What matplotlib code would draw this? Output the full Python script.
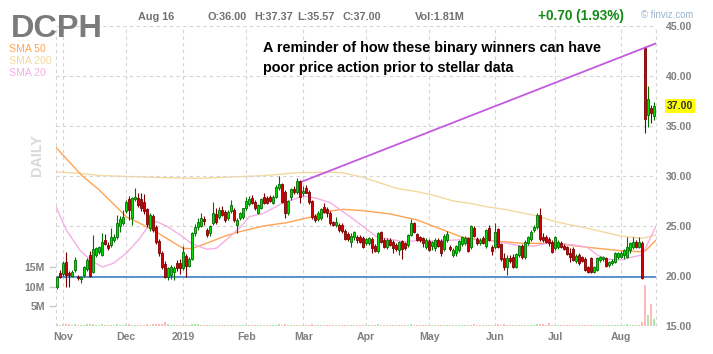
import numpy as np
import pandas as pd
import matplotlib
matplotlib.use("Agg")
import matplotlib.pyplot as plt

plt.rcParams['font.family'] = ['Liberation Sans', 'DejaVu Sans']

# trading calendar, Oct 30 2018 .. Aug 16 2019
holidays = ['2018-11-22', '2018-12-05', '2018-12-25', '2019-01-01', '2019-01-21',
            '2019-02-18', '2019-04-19', '2019-05-27', '2019-07-04']

opens = [
    18.9, 20.3, 20.2, 21.4, 20.3, 20.0, 20.6, 19.95, 19.7, 20.1,
    20.7, 22.1, 20.4, 22.1, 22.4, 22.1, 23.6, 23.1, 23.1, 23.6,
    23.9, 25.0, 25.3, 26.5, 27.7, 25.8, 27.7, 27.8, 27.7, 27.4,
    26.7, 24.8, 26.0, 24.9, 23.5, 22.3, 21.2, 19.9, 20.1, 20.4,
    21.3, 21.3, 20.8, 22.0, 21.0, 21.7, 24.3, 24.9, 25.0, 25.7,
    24.6, 24.3, 25.3, 26.2, 25.9, 26.6, 26.4, 25.8, 26.5, 26.6,
    25.1, 25.8, 25.9, 26.8, 27.2, 27.8, 27.4, 26.3, 26.8, 27.9,
    27.8, 27.9, 27.3, 27.9, 28.8, 29.2, 28.4, 26.3, 27.9, 28.7,
    28.4, 29.5, 28.3, 28.8, 28.4, 27.5, 26.0, 25.7, 25.8, 26.9,
    26.7, 26.3, 25.4, 25.1, 25.1, 25.1, 24.5, 24.2, 23.4, 23.9,
    23.9, 23.9, 23.8, 23.3, 23.3, 23.7, 23.0, 22.5, 24.4, 23.6,
    22.9, 23.6, 23.4, 23.1, 22.6, 23.5, 23.3, 23.1, 24.1, 25.3,
    24.2, 23.9, 23.8, 22.9, 23.5, 23.0, 22.8, 23.6, 23.5, 22.7,
    23.6, 22.9, 22.1, 22.3, 22.6, 23.2, 23.3, 23.8, 22.9, 24.8,
    23.7, 23.3, 23.8, 23.0, 24.8, 22.9, 22.9, 24.7, 23.2, 21.8,
    20.9, 21.8, 21.9, 20.9, 22.1, 23.0, 21.9, 23.3, 23.7, 24.6,
    24.9, 26.1, 23.9, 23.9, 23.7, 23.4, 22.8, 22.9, 23.3, 23.0,
    22.9, 22.3, 22.7, 21.5, 22.1, 21.9, 21.7, 20.9, 21.8, 20.4,
    20.6, 21.6, 21.7, 21.8, 21.1, 21.3, 21.4, 21.9, 21.9, 22.1,
    21.9, 22.6, 22.9, 23.4, 22.9, 23.3, 42.8, 36.1, 36.8, 36.0,
]
highs = [
    20.0, 20.6, 21.5, 22.4, 20.5, 20.6, 21.9, 20.1, 20.0, 21.0,
    21.8, 22.5, 24.1, 22.9, 23.0, 24.3, 24.2, 23.4, 24.8, 24.2,
    26.1, 26.0, 26.6, 27.6, 28.0, 27.9, 28.8, 28.3, 28.3, 28.2,
    26.8, 26.3, 26.2, 25.1, 23.7, 22.5, 21.5, 20.9, 21.1, 21.0,
    21.6, 21.7, 23.0, 22.2, 21.9, 24.4, 25.2, 25.8, 26.3, 26.0,
    24.8, 25.1, 27.4, 26.8, 26.9, 27.0, 26.6, 26.6, 27.6, 26.8,
    25.8, 26.4, 26.8, 27.9, 28.0, 28.1, 27.6, 27.2, 27.8, 28.3,
    28.0, 28.1, 28.1, 29.1, 30.0, 29.3, 28.6, 27.6, 28.8, 29.0,
    29.8, 29.6, 29.0, 29.1, 28.6, 27.6, 26.2, 26.5, 26.8, 27.3,
    26.9, 26.5, 25.5, 25.9, 25.3, 25.3, 24.7, 24.4, 24.3, 24.5,
    24.1, 24.1, 24.0, 23.8, 23.9, 23.9, 23.2, 24.4, 24.5, 23.8,
    23.8, 23.8, 23.6, 23.3, 23.5, 23.6, 23.4, 24.2, 25.7, 25.4,
    24.3, 24.0, 23.9, 23.8, 23.7, 23.5, 23.8, 23.8, 23.7, 24.2,
    24.5, 23.1, 22.8, 23.1, 23.6, 24.0, 24.0, 23.9, 25.1, 25.0,
    23.9, 23.8, 24.0, 24.7, 25.1, 23.1, 25.3, 24.8, 23.3, 22.3,
    22.1, 22.1, 22.2, 22.3, 23.1, 23.2, 23.6, 24.0, 24.6, 25.1,
    26.3, 26.8, 24.3, 24.1, 23.9, 23.6, 24.0, 23.6, 23.5, 23.2,
    23.0, 22.8, 22.9, 22.2, 22.3, 22.0, 21.9, 21.0, 21.9, 21.0,
    21.9, 22.0, 22.0, 21.9, 21.5, 21.7, 22.4, 22.4, 22.5, 22.7,
    23.9, 23.4, 23.9, 23.6, 23.9, 23.5, 43.0, 39.0, 37.1, 37.37,
]
lows = [
    18.7, 19.8, 20.0, 18.9, 18.9, 19.9, 20.4, 19.6, 19.3, 19.9,
    20.5, 19.9, 20.3, 21.9, 22.2, 22.0, 23.1, 22.6, 22.9, 23.4,
    23.7, 24.4, 25.1, 26.3, 25.6, 25.1, 27.5, 26.9, 26.5, 26.2,
    24.9, 24.5, 24.4, 23.2, 22.0, 20.7, 19.8, 19.6, 19.7, 19.6,
    20.5, 20.2, 20.6, 19.9, 20.9, 21.6, 24.0, 24.6, 24.9, 25.1,
    23.9, 24.0, 25.1, 25.2, 25.7, 26.0, 25.4, 25.6, 26.3, 25.4,
    24.3, 25.6, 25.7, 26.6, 27.0, 27.2, 26.6, 26.2, 26.7, 27.2,
    27.2, 27.4, 27.2, 27.8, 28.6, 27.3, 25.8, 26.1, 27.6, 28.2,
    28.2, 27.3, 28.0, 28.3, 27.2, 25.7, 25.4, 25.5, 25.6, 26.3,
    25.9, 25.1, 25.0, 24.9, 24.4, 24.3, 23.6, 23.5, 22.9, 23.6,
    23.3, 23.3, 22.8, 23.1, 23.1, 22.3, 22.4, 22.3, 23.3, 22.8,
    22.7, 23.0, 22.3, 22.5, 22.1, 21.7, 22.6, 22.9, 24.0, 24.3,
    23.5, 23.4, 22.9, 22.7, 22.5, 22.6, 22.5, 22.9, 22.0, 22.5,
    23.4, 22.5, 21.9, 22.0, 22.4, 23.0, 23.1, 22.4, 22.7, 23.9,
    23.1, 23.1, 23.2, 22.8, 23.5, 22.1, 22.7, 22.8, 21.5, 20.6,
    20.1, 21.3, 20.8, 20.8, 21.9, 21.7, 21.7, 23.1, 23.5, 24.4,
    24.7, 23.5, 23.4, 23.3, 23.0, 22.3, 22.6, 22.7, 22.8, 22.6,
    22.1, 21.4, 21.5, 21.3, 21.1, 21.4, 20.5, 20.3, 20.3, 20.3,
    20.5, 21.4, 21.5, 20.9, 20.9, 21.1, 21.3, 21.7, 21.8, 21.7,
    21.8, 22.3, 22.7, 22.8, 22.8, 19.7, 34.3, 34.9, 35.3, 35.57,
]
closes = [
    19.9, 19.95, 21.3, 20.1, 20.1, 20.4, 21.6, 19.8, 19.9, 20.9,
    21.6, 20.0, 22.7, 22.8, 22.9, 23.4, 23.2, 22.8, 23.9, 23.9,
    25.3, 25.7, 25.9, 27.4, 26.6, 27.8, 27.9, 27.1, 26.8, 26.5,
    25.2, 26.1, 24.6, 23.4, 22.3, 20.9, 19.9, 20.8, 20.9, 20.8,
    20.8, 20.8, 22.4, 21.0, 21.7, 24.3, 24.9, 25.4, 25.8, 25.5,
    24.1, 25.0, 26.3, 25.4, 26.6, 26.1, 25.6, 26.4, 27.1, 25.6,
    25.6, 26.3, 26.8, 27.5, 27.7, 27.3, 26.8, 27.1, 27.7, 27.3,
    27.3, 27.5, 27.9, 28.9, 29.2, 27.4, 26.3, 27.5, 28.7, 28.4,
    29.5, 27.9, 28.5, 28.3, 27.4, 25.9, 25.6, 26.3, 26.7, 26.4,
    26.3, 25.3, 25.1, 25.4, 24.6, 24.5, 23.7, 23.7, 24.0, 24.4,
    23.6, 23.4, 22.9, 23.7, 23.8, 22.8, 22.5, 24.3, 23.4, 22.9,
    23.6, 23.1, 22.8, 22.7, 23.4, 22.7, 22.8, 24.1, 25.3, 24.4,
    23.6, 23.6, 23.3, 23.6, 22.6, 23.4, 23.6, 23.0, 22.3, 24.0,
    24.2, 22.7, 22.6, 23.0, 23.5, 23.9, 23.8, 22.5, 25.0, 24.0,
    23.3, 23.6, 23.3, 24.6, 23.6, 22.5, 24.4, 22.9, 21.7, 20.9,
    21.8, 21.5, 20.9, 22.2, 23.0, 21.9, 23.4, 23.9, 24.4, 24.9,
    26.1, 23.7, 23.6, 23.4, 23.3, 22.4, 23.9, 23.4, 22.9, 22.7,
    22.2, 21.9, 21.6, 22.0, 21.3, 21.5, 20.6, 20.4, 20.4, 20.9,
    21.8, 21.9, 21.9, 21.0, 21.4, 21.5, 22.3, 22.3, 22.3, 22.6,
    22.9, 23.3, 23.4, 22.9, 23.4, 19.8, 35.7, 37.7, 36.3, 37.0,
]
# volume in millions
volumes = [
    0.4, 0.3, 0.5, 0.6, 0.5, 0.3, 0.4, 0.3, 0.3, 0.3, 0.4, 0.5, 0.6, 0.3, 0.3, 0.4, 0.3, 0.2, 0.3, 0.3,
    0.4, 0.3, 0.3, 0.4, 0.4, 0.3, 0.3, 0.3, 0.2, 0.3, 0.4, 0.3, 0.4, 0.4, 0.5, 0.6, 1.0, 0.4, 0.3, 0.3,
    0.2, 0.2, 0.3, 0.3, 0.2, 0.6, 0.5, 0.4, 0.3, 0.3, 0.3, 0.3, 0.3, 0.2, 0.3, 0.2, 0.2, 0.2, 0.3, 0.2,
    0.3, 0.2, 0.2, 0.3, 0.2, 0.2, 0.2, 0.2, 0.2, 0.2, 0.2, 0.2, 0.2, 0.3, 0.4, 0.3, 0.4, 0.3, 0.2, 0.2,
    0.3, 0.3, 0.2, 0.2, 0.3, 0.4, 0.3, 0.2, 0.2, 0.2, 0.2, 0.3, 0.2, 0.2, 0.2, 0.2, 0.3, 0.2, 0.2, 0.2,
    0.2, 0.2, 0.3, 0.2, 0.2, 0.3, 0.2, 0.4, 0.3, 0.2, 0.2, 0.2, 0.2, 0.2, 0.2, 0.3, 0.2, 0.3, 0.5, 0.3,
    0.2, 0.2, 0.2, 0.2, 0.2, 0.2, 0.2, 0.2, 0.3, 0.3, 0.3, 0.2, 0.2, 0.2, 0.2, 0.2, 0.2, 0.2, 0.2, 0.4,
    0.3, 0.2, 0.2, 0.2, 0.3, 0.3, 0.2, 0.4, 0.3, 0.4, 0.3, 0.3, 0.2, 0.3, 0.3, 0.2, 0.3, 0.2, 0.2, 0.3,
    0.4, 0.6, 0.5, 0.3, 0.8, 0.3, 0.3, 0.2, 0.2, 0.2, 0.2, 0.2, 0.2, 0.2, 0.2, 0.2, 0.3, 0.2, 0.3, 0.2,
    0.3, 0.2, 0.2, 0.2, 0.2, 0.2, 0.3, 0.2, 0.2, 0.3, 0.5, 0.3, 0.3, 0.2, 0.3, 0.9, 10.5, 2.8, 5.6, 1.81,
]

# moving averages (bar index, price)
sma50_x = [-0.4, 8, 14, 23, 27.5, 32, 36.4, 42, 45, 50, 56, 61, 68.7, 76.4, 85, 91, 95.3, 102, 111, 120,
           128.7, 135, 139, 149, 155, 165.5, 176.7, 187.8, 194, 196, 199.6]
sma50_y = [32.85, 30.1, 28.6, 25.93, 25.27, 24.6, 23.77, 22.75, 22.75, 23.3, 24.0, 24.45, 25.0, 25.33, 25.93,
           26.5, 26.67, 26.53, 26.2, 25.6, 24.6, 23.87, 23.67, 23.43, 23.27, 23.27, 22.87, 22.53, 22.43, 22.5, 23.6]
sma200_x = [-0.4, 7.5, 14, 25, 36, 47.5, 57.5, 68.7, 80, 91, 95, 102, 113, 120, 126.4, 132, 137.6, 143, 149,
            160, 166, 176.7, 187.8, 195, 199.6]
sma200_y = [30.4, 30.27, 30.05, 29.93, 29.83, 29.77, 29.9, 30.03, 30.33, 30.37, 30.33, 29.87, 28.77, 28.43,
            28.0, 27.5, 27.27, 26.93, 26.67, 26.0, 25.43, 24.77, 24.0, 23.77, 24.1]
sma20_x = [-0.4, 3, 7.5, 11, 15, 18.7, 23, 27.5, 31, 33, 36.4, 41, 45, 50, 53, 56, 61, 64, 68.7, 75, 82,
           86.4, 91, 97.6, 102, 106.4, 111, 115.3, 120, 124.4, 133, 137.6, 143, 150, 154.4, 159, 163.3, 166,
           172.2, 176.7, 180, 183.3, 187.8, 192.2, 195, 199.6]
sma20_y = [26.9, 24.6, 22.6, 21.6, 20.9, 21.27, 22.27, 23.77, 25.27, 25.43, 25.0, 24.1, 23.2, 22.67, 22.77,
           23.53, 24.87, 25.93, 26.27, 27.27, 28.0, 27.77, 27.33, 25.93, 24.93, 23.93, 23.67, 23.43, 23.53,
           23.5, 23.6, 23.77, 23.6, 23.27, 23.0, 23.0, 23.27, 23.3, 23.1, 22.87, 22.1, 21.67, 21.6, 21.93,
           22.1, 25.0]

# drawn lines: trend line and horizontal support
trend_x = [81.5, 199.6]
trend_y = [29.43, 43.27]
support_level = 19.9

price_ticks = [15, 20, 25, 30, 35, 40, 45]
vol_ticks = [5, 10, 15]
last_price = 37.00

days = pd.bdate_range("2018-10-30", "2019-08-16", freq="C", holidays=holidays)
x = np.arange(len(days))
o, h, l, c = (np.array(v) for v in (opens, highs, lows, closes))
up = c >= o

month_idx = [i for i in range(1, len(days)) if days[i].month != days[i - 1].month]
month_lab = ["2019" if days[i].month == 1 else days[i].strftime("%b") for i in month_idx]

W, H = 713, 354
fig = plt.figure(figsize=(W / 100, H / 100), dpi=100)
ax = fig.add_axes([56 / W, 28 / H, 600 / W, 300 / H])
axv = ax.twinx()
ax.set_zorder(2)
axv.set_zorder(1)
ax.patch.set_visible(False)

x0, x1 = -0.43, 199.57
ax.set_xlim(x0, x1)
ax.set_ylim(15, 45)
axv.set_ylim(0, 300 / 3.93)

grey = '#808080'
# volume
axv.bar(x, volumes, width=0.8, color=np.where(up, '#a9e7a9', '#ffb9b9'), linewidth=0)

# grid
for s in list(ax.spines.values()) + list(axv.spines.values()):
    s.set_visible(False)
ax.set_xticks(month_idx)
ax.set_xticklabels(month_lab)
ax.set_yticks(price_ticks)
ax.set_yticklabels(["%.2f" % p for p in price_ticks])
ax.grid(True, color='#d4d4d4', linestyle=(0, (3, 3)), linewidth=0.8, zorder=0)
for xe in (x0, x1):
    ax.axvline(xe, color='#d4d4d4', linestyle=(0, (3, 3)), linewidth=0.8, clip_on=False)
ax.yaxis.tick_right()
ax.tick_params(axis='y', length=0, pad=7, labelcolor=grey, labelsize=7.6)
ax.tick_params(axis='x', length=0, pad=4, labelcolor=grey, labelsize=7.6)
for t in ax.get_xticklabels() + ax.get_yticklabels():
    t.set_fontweight('bold')

axv.yaxis.tick_left()
axv.set_yticks(vol_ticks)
axv.set_yticklabels(["%dM" % v for v in vol_ticks])
axv.tick_params(axis='y', length=5, width=1, color='#c8c8c8', pad=3, labelcolor=grey, labelsize=7.6)
for t in axv.get_yticklabels():
    t.set_fontweight('bold')

# moving averages
ax.plot(sma200_x, sma200_y, color='#f3d9a0', lw=1.0, zorder=1.5)
ax.plot(sma50_x, sma50_y, color='#ffa452', lw=1.0, zorder=1.6)
ax.plot(sma20_x, sma20_y, color='#f7aee3', lw=1.0, zorder=1.7)

# support line
ax.axhline(support_level, color='#3f7fc9', lw=1.2, zorder=1.8)

# candles
edge = np.where(up, '#006e00', '#7a0000')
fill = np.where(up, '#00e000', '#d80000')
ax.vlines(x, l, h, colors=edge, linewidth=0.8, zorder=3)
body = np.maximum(np.abs(c - o), 0.08)
ax.bar(x, body, bottom=np.minimum(o, c), width=0.68, color=fill, edgecolor=edge,
       linewidth=0.6, zorder=4)

# trend line
ax.plot(trend_x, trend_y, color='#c45ae0', lw=1.3, zorder=5, solid_capstyle='butt')

# last price box
ax.text(1 + 10.5 / 600, last_price, "%.2f" % last_price, transform=ax.get_yaxis_transform(),
        ha='left', va='center', fontsize=7.6, fontweight='bold', color='#333333',
        bbox=dict(boxstyle='square,pad=0.18', facecolor='#ffff00', edgecolor='none'))


def fx(px):
    return px / W


def fy(py):
    return 1 - py / H


fig.text(fx(11), fy(37.3), "DCPH", fontsize=23.4, fontweight='bold', color='#7b7b7b', va='baseline')
fig.text(fx(138), fy(17), "Aug 16", fontsize=7.8, fontweight='bold', color='#707070', va='center')
for px_, s in [(208, "O:36.00"), (254, "H:37.37"), (297.7, "L:35.57"), (342.7, "C:37.00"),
               (415, "Vol:1.81M")]:
    fig.text(fx(px_), fy(17), s, fontsize=7.8, fontweight='bold', color='#707070', va='center')
fig.text(fx(537.5), fy(16), "+0.70 (1.93%)", fontsize=9.8, fontweight='bold', color='#138a13', va='center')
fig.text(fx(641), fy(15), "\u00a9 finviz.com", fontsize=6.9, color='#9db4cc', va='center')

for py_, s, col in [(49.3, "SMA 50", '#ffa452'), (61, "SMA 200", '#f3d9a0'), (72.7, "SMA 20", '#f7aee3')]:
    fig.text(fx(9), fy(py_), s, fontsize=7.6, color=col, va='center')

fig.text(fx(36.5), fy(155), "DAILY", rotation=90, fontsize=10.4, fontweight='bold', color='#d9d9d9',
         ha='center', va='center')

note = ["A reminder of how these binary winners can have",
        "poor price action prior to stellar data"]
fig.text(fx(263), fy(48.3), note[0], fontsize=10.4, fontweight='bold', color='black', va='center')
fig.text(fx(263), fy(68.3), note[1], fontsize=10.4, fontweight='bold', color='black', va='center')

fig.savefig("out.png", dpi=100)
